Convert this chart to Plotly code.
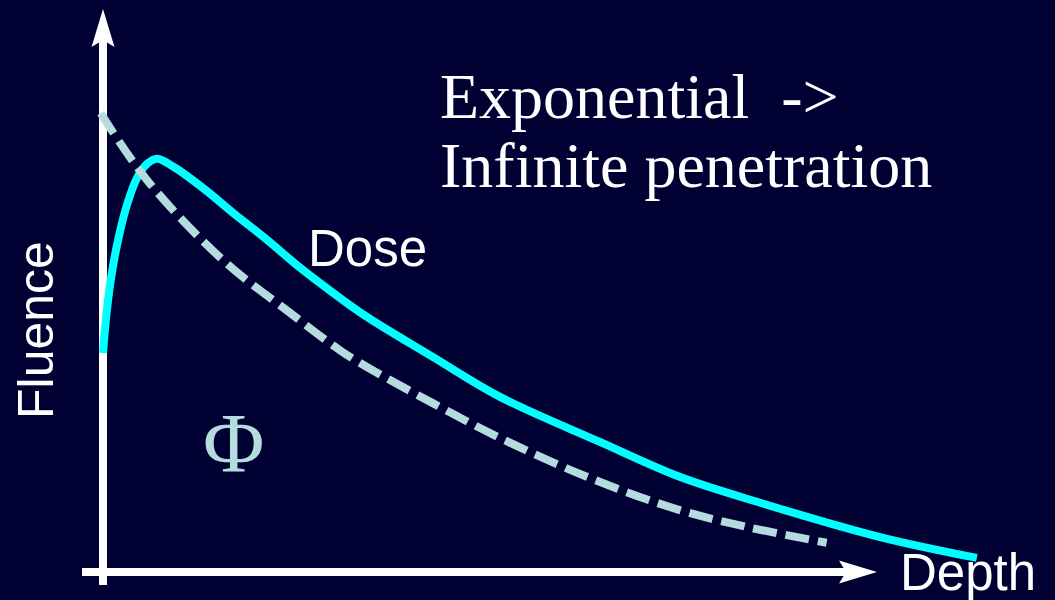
import plotly.graph_objects as go

# Depth in arbitrary units (axis arrow at 10), relative value in % (axis arrow at 100)
fluence_depth = [-0.03, 0.57, 1.55, 2.42, 3.06, 3.41, 4.26, 5.13, 6.29, 7.45, 8.32, 9.35]
fluence_value = [81.5, 69.6, 55.4, 46.0, 39.4, 36.4, 30.0, 23.8, 16.7, 11.0, 8.0, 5.2]

dose_depth = [0.0, 0.05, 0.12, 0.21, 0.31, 0.44, 0.57, 0.70, 0.93, 1.32, 1.68, 2.12,
              2.55, 2.97, 3.41, 4.26, 5.13, 6.42, 7.45, 8.49, 10.04, 11.29]
dose_value = [38.9, 46.5, 53.6, 59.9, 65.2, 70.0, 72.5, 73.4, 71.8, 67.9, 63.8, 59.0,
              54.0, 49.6, 45.3, 38.2, 31.1, 23.1, 16.9, 12.3, 6.2, 2.5]

BG = "#000033"
CYAN = "#00FFFF"
PALE = "#B4DCDE"
WHITE = "#FFFFFF"

W, H = 1055, 600
# pixel scale of the data axes
PX_PER_DEPTH = 77.4
PX_PER_VALUE = 5.63
ORIGIN_PX = (103, 572)

x_range = [-ORIGIN_PX[0] / PX_PER_DEPTH, (W - ORIGIN_PX[0]) / PX_PER_DEPTH]
y_range = [-(H - ORIGIN_PX[1]) / PX_PER_VALUE, ORIGIN_PX[1] / PX_PER_VALUE]


def dx(px):
    return px / PX_PER_DEPTH


def dy(px):
    return px / PX_PER_VALUE


fig = go.Figure()

fig.add_trace(go.Scatter(
    x=dose_depth, y=dose_value, mode="lines",
    line=dict(color=CYAN, width=8, shape="spline", smoothing=1.0),
    hoverinfo="skip", showlegend=False,
))
fig.add_trace(go.Scatter(
    x=fluence_depth, y=fluence_value, mode="lines",
    line=dict(color=PALE, width=8, shape="spline", dash="24px,9px"),
    hoverinfo="skip", showlegend=False,
))

AXIS_W = 8
X_TIP, Y_TIP = 10, 100
HEAD_LEN, HEAD_HALF, NOTCH = 38, 11.5, 31

shapes = [
    # vertical axis
    dict(type="line", x0=0, x1=0, y0=-dy(13), y1=Y_TIP - dy(NOTCH),
         line=dict(color=WHITE, width=AXIS_W), layer="below"),
    # horizontal axis
    dict(type="line", x0=-dx(21), x1=X_TIP - dx(NOTCH), y0=0, y1=0,
         line=dict(color=WHITE, width=AXIS_W), layer="below"),
    # arrow heads
    dict(type="path",
         path=(f"M 0,{Y_TIP} L {dx(HEAD_HALF)},{Y_TIP - dy(HEAD_LEN)} "
               f"L 0,{Y_TIP - dy(NOTCH)} L {-dx(HEAD_HALF)},{Y_TIP - dy(HEAD_LEN)} Z"),
         fillcolor=WHITE, line=dict(width=0), layer="below"),
    dict(type="path",
         path=(f"M {X_TIP},0 L {X_TIP - dx(HEAD_LEN)},{dy(HEAD_HALF)} "
               f"L {X_TIP - dx(NOTCH)},0 L {X_TIP - dx(HEAD_LEN)},{-dy(HEAD_HALF)} Z"),
         fillcolor=WHITE, line=dict(width=0), layer="below"),
]

serif = "Liberation Serif, Times New Roman, serif"
sans = "Liberation Sans, Arial, sans-serif"

annotations = [
    dict(x=438 / W, y=1 - 96 / H, xref="paper", yref="paper", text="Exponential  ->",
         showarrow=False, xanchor="left", yanchor="middle",
         font=dict(family=serif, size=64, color=WHITE)),
    dict(x=438 / W, y=1 - 166 / H, xref="paper", yref="paper", text="Infinite penetration",
         showarrow=False, xanchor="left", yanchor="middle",
         font=dict(family=serif, size=64, color=WHITE)),
    dict(x=306 / W, y=1 - 248 / H, xref="paper", yref="paper", text="Dose",
         showarrow=False, xanchor="left", yanchor="middle",
         font=dict(family=sans, size=51, color=WHITE)),
    dict(x=968 / W, y=1 - 572 / H, xref="paper", yref="paper", text="Depth",
         showarrow=False, xanchor="center", yanchor="middle",
         font=dict(family=sans, size=51, color=WHITE)),
    dict(x=36 / W, y=1 - 330 / H, xref="paper", yref="paper", text="Fluence",
         showarrow=False, textangle=-90, xanchor="center", yanchor="middle",
         font=dict(family=sans, size=50, color=WHITE)),
    dict(x=233 / W, y=1 - 443 / H, xref="paper", yref="paper", text="Φ",
         showarrow=False, xanchor="center", yanchor="middle",
         font=dict(family=serif, size=84, color=PALE)),
]

fig.update_layout(
    width=W, height=H,
    margin=dict(l=0, r=0, t=0, b=0),
    paper_bgcolor=BG, plot_bgcolor=BG,
    xaxis=dict(range=x_range, visible=False, fixedrange=True),
    yaxis=dict(range=y_range, visible=False, fixedrange=True),
    shapes=shapes, annotations=annotations,
    showlegend=False,
)

fig.write_html("out.html", config={"displayModeBar": False})
